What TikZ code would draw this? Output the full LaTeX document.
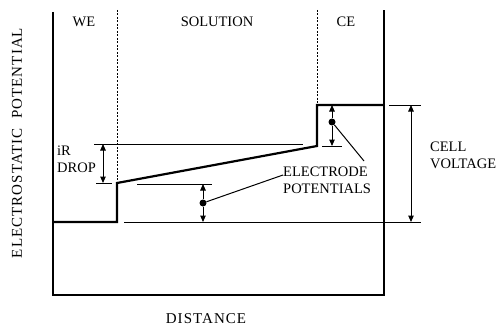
\documentclass[tikz,border=0pt]{standalone}
\usepackage{fontspec}
\setmainfont{Liberation Serif}
\newfontfamily\spacedfont[LetterSpace=7]{Liberation Serif}
\usetikzlibrary{arrows.meta}
\begin{document}
\begin{tikzpicture}[x=1pt,y=-1pt,
  lbl/.style={font=\fontsize{14.5}{17}\selectfont, inner sep=0pt, align=left},
  biglbl/.style={font=\spacedfont\fontsize{15}{17}\selectfont, inner sep=0pt},
  axline/.style={line width=1.5pt},
  profline/.style={line width=2.2pt},
  thinline/.style={line width=1pt},
  dashline/.style={line width=0.7pt, dash pattern=on 2pt off 1.5pt},
  tip/.tip={Triangle[length=6.5pt,width=5.5pt]},
  dimarrow/.style={thinline, tip-tip},
  dotmark/.style={circle, fill=black, inner sep=0pt, minimum size=7pt}]
\useasboundingbox (0,0) rectangle (498,329);

% frame
\coordinate (ltop) at (53,12);
\coordinate (lbot) at (53,295);
\coordinate (rbot) at (384,295);
\coordinate (rtop) at (384,10);
\draw[axline] (ltop) -- (lbot) -- (rbot) -- (rtop);

% region separators
\coordinate (wetop) at (117,10);
\coordinate (webot) at (117,183);
\coordinate (cetop) at (317,10);
\coordinate (cebot) at (317,105);
\draw[dashline] (wetop) -- (webot);
\draw[dashline] (cetop) -- (cebot);

% region labels
\node[lbl] (we) at (84,22) {WE};
\node[lbl] (sol) at (217,22) {SOLUTION};
\node[lbl] (ce) at (346,22) {CE};

% potential profile
\coordinate (p1) at (53,222);
\coordinate (p2) at (117,222);
\coordinate (p3) at (117,183);
\coordinate (p4) at (317,146);
\coordinate (p5) at (317,105);
\coordinate (p6) at (384,105);
\draw[profline] (p1) -- (p2) -- (p3) -- (p4) -- (p5) -- (p6);

% iR drop
\coordinate (irl) at (94,144);
\coordinate (irr) at (303,144);
\draw[thinline] (irl) -- (irr);
\coordinate (irtl) at (96,183);
\coordinate (irtr) at (112,183);
\draw[thinline] (irtl) -- (irtr);
\coordinate (ira) at (103,144);
\coordinate (irb) at (103,183);
\draw[dimarrow] (ira) -- (irb);
\node[lbl, anchor=west] (irtxt) at (57,159) {iR\\DROP};

% WE electrode potential
\coordinate (wel) at (137,184);
\coordinate (wer) at (212,184);
\draw[thinline] (wel) -- (wer);
\coordinate (basel) at (124,222);
\coordinate (baser) at (421,222);
\draw[thinline] (basel) -- (baser);
\node[dotmark] (wedot) at (203,203) {};
\coordinate (wetopa) at (203,184);
\coordinate (webota) at (203,222);
\draw[thinline,-tip] (wedot) -- (wetopa);
\draw[thinline,-tip] (wedot) -- (webota);

% CE electrode potential
\coordinate (cetl) at (322,146);
\coordinate (cetr) at (342,146);
\draw[thinline] (cetl) -- (cetr);
\node[dotmark] (cedot) at (332,122) {};
\coordinate (cetopa) at (332,105);
\coordinate (cebota) at (332,146);
\draw[thinline,-tip] (cedot) -- (cetopa);
\draw[thinline,-tip] (cedot) -- (cebota);

% electrode potentials label
\node[lbl, anchor=west] (eptxt) at (283,180) {ELECTRODE\\POTENTIALS};
\coordinate (lead1) at (283,175);
\coordinate (lead2) at (364,161);
\draw[thinline] (wedot) -- (lead1);
\draw[thinline] (cedot) -- (lead2);

% cell voltage
\coordinate (cvl) at (389,105);
\coordinate (cvr) at (421,105);
\draw[thinline] (cvl) -- (cvr);
\coordinate (cva) at (411,105);
\coordinate (cvb) at (411,222);
\draw[dimarrow] (cva) -- (cvb);
\node[lbl, anchor=west] (cvtxt) at (430,155) {CELL\\VOLTAGE};

% axis labels
\node[biglbl, rotate=90] (ylab) at (17,143) {ELECTROSTATIC\ \ POTENTIAL};
\node[biglbl] (xlab) at (206,319) {DISTANCE};
\end{tikzpicture}
\end{document}
